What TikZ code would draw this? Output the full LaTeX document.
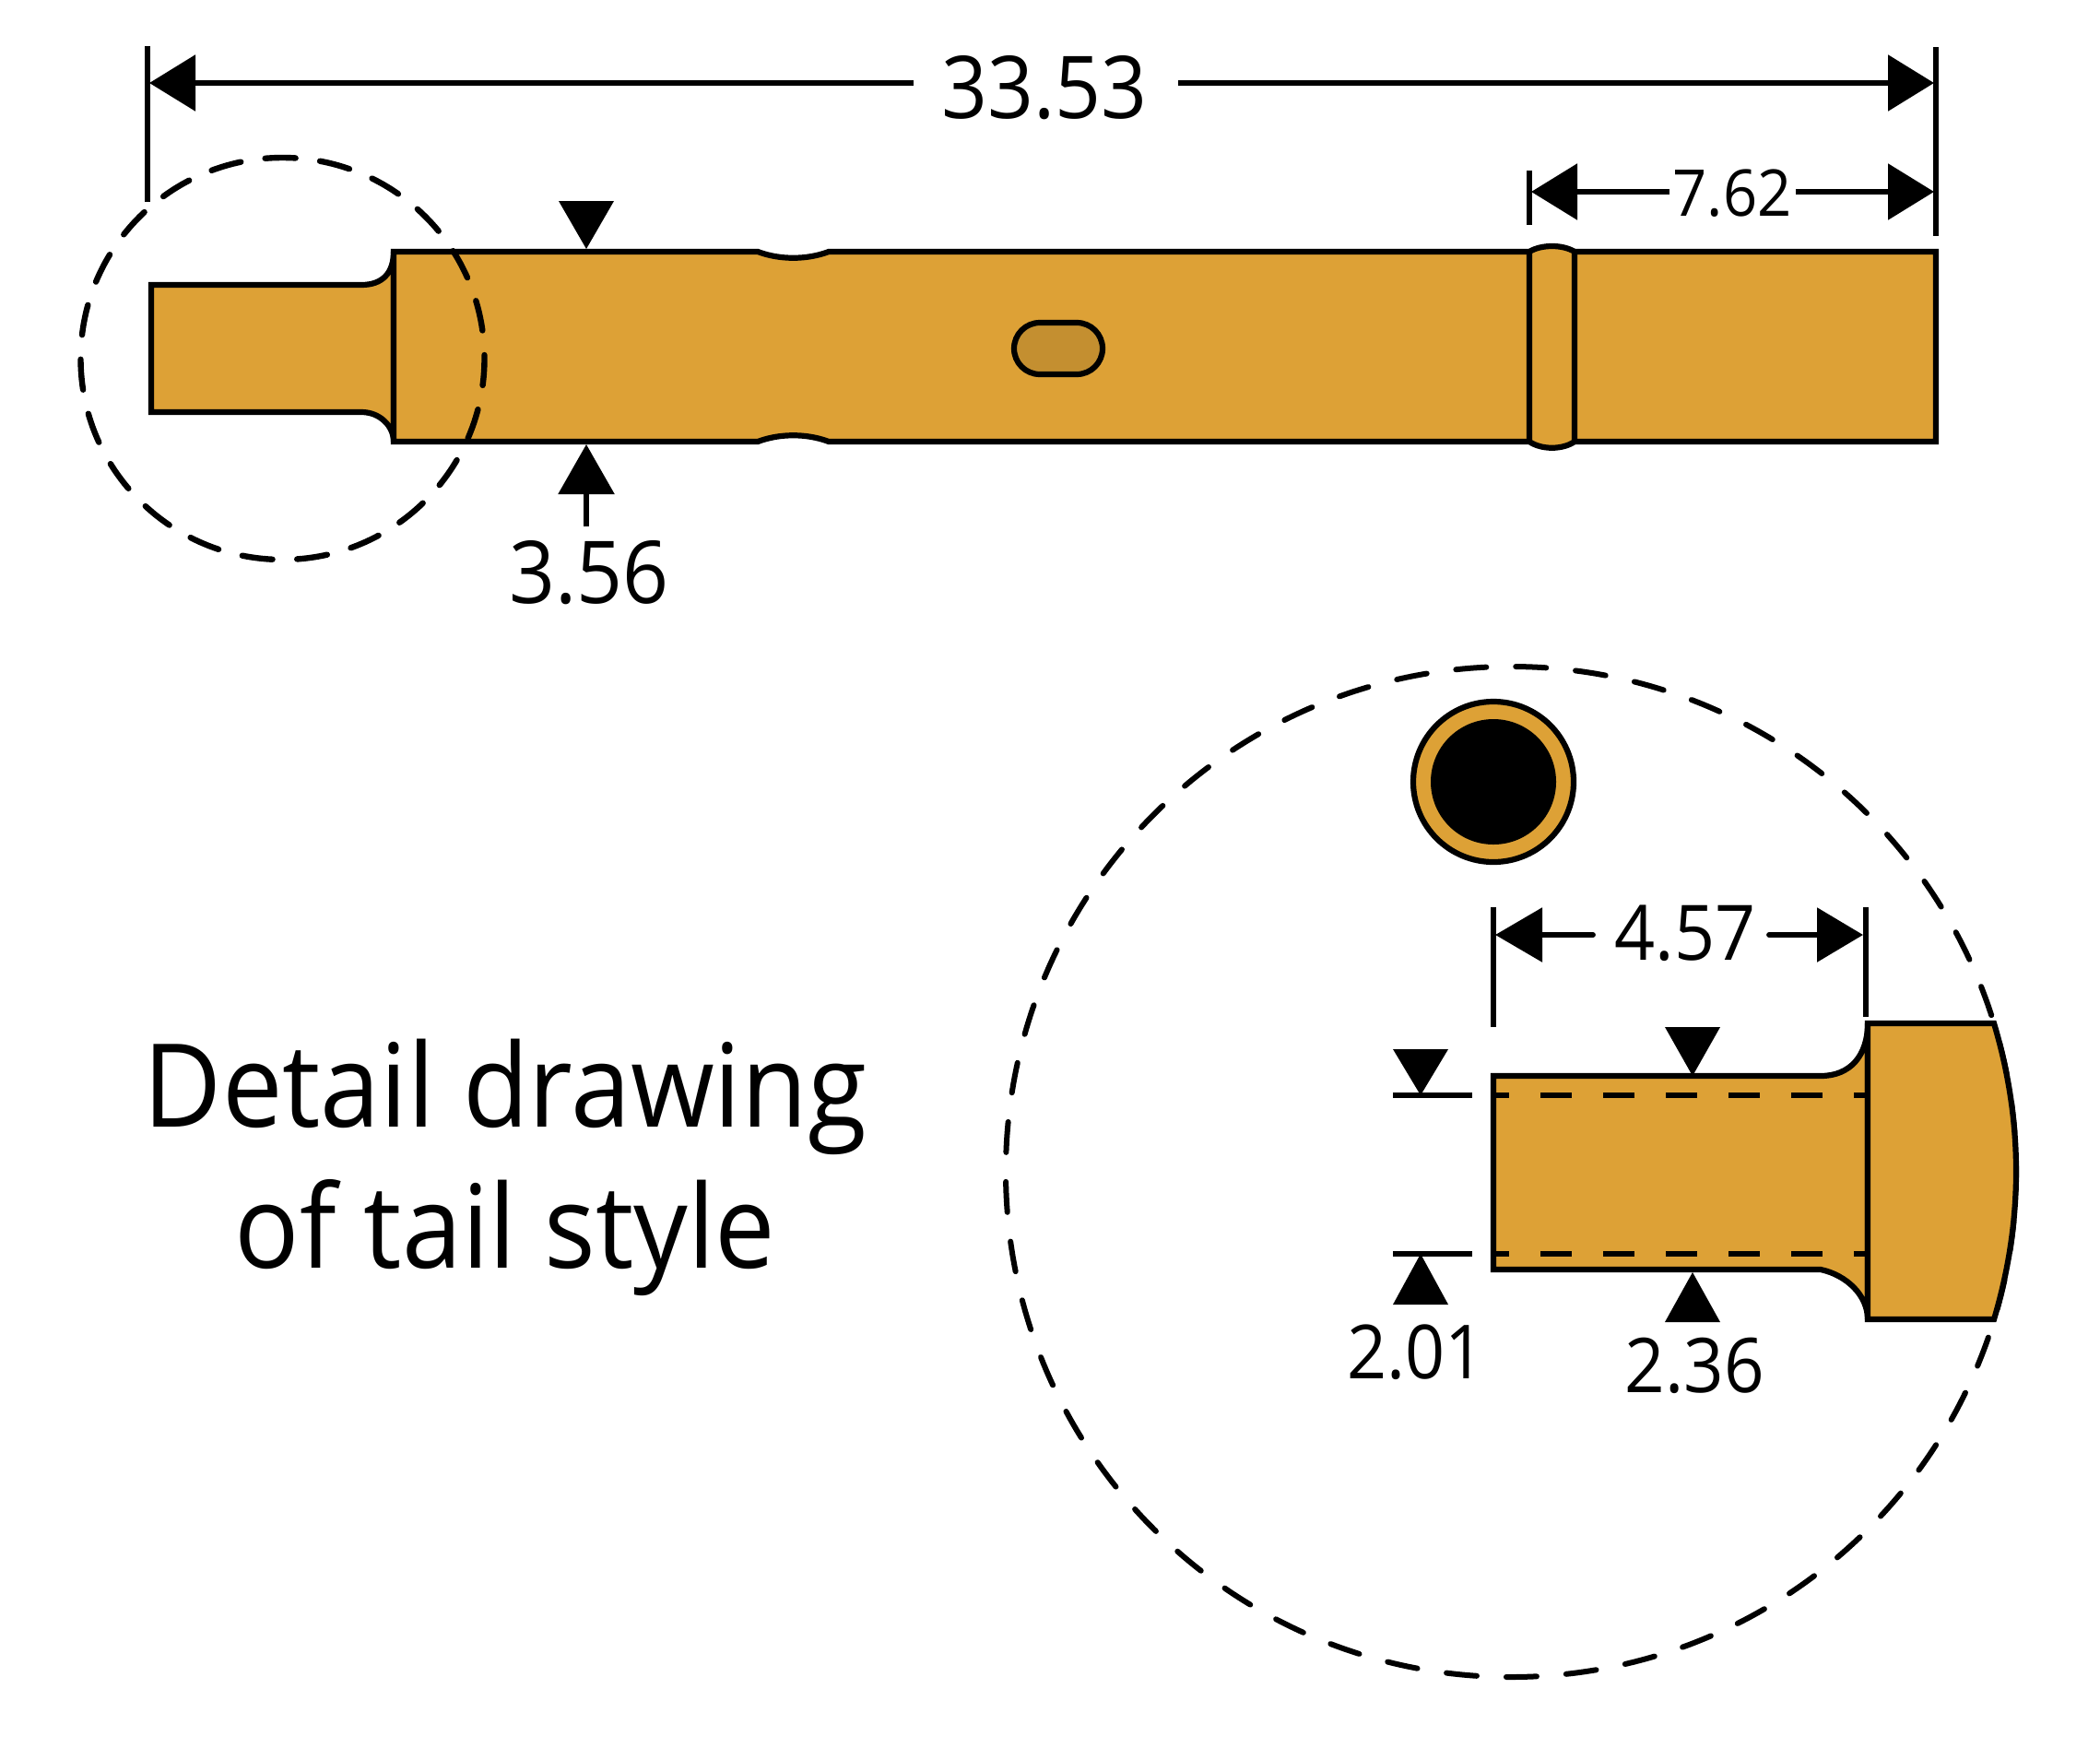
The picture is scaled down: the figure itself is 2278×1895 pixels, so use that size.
\documentclass[tikz,border=0pt]{standalone}
\usepackage{fontspec}
\setmainfont[FakeStretch=0.93]{Open Sans}
\usetikzlibrary{arrows.meta}
\definecolor{brass}{HTML}{DDA136}
\definecolor{brassdark}{HTML}{C48F30}
\tikzset{
  x=0.5pt,y=-0.5pt,
  partline/.style={draw=black,line width=3.1pt,fill=brass,line join=miter},
  extline/.style={draw=black,line width=2.9pt},
  dimline/.style={draw=black,line width=2.9pt,-{Triangle[length=25pt,width=30pt]}},
  marker/.style={fill=black},
  circlesmall/.style={draw=black,line width=3.2pt,line cap=round,dash pattern=on 16.5pt off 13.35pt,dash phase=2pt},
  circlebig/.style={draw=black,line width=3pt,line cap=round,dash pattern=on 16.5pt off 16pt,dash phase=6pt},
  hiddenline/.style={draw=black,line width=3pt,dash pattern=on 17pt off 17pt,dash phase=8.5pt},
  lab/.style={inner sep=0pt,anchor=base,font=\fontsize{#1}{#1}\selectfont},
}
\newcommand{\mrk}[3]{\fill[marker] (#1,#2) -- (#1-30,#3) -- (#1+30,#3) -- cycle;}
\begin{document}
\begin{tikzpicture}
\useasboundingbox (0,0) rectangle (2278,1895);

% ---- detail circle (beneath the head)
\draw[circlebig] (1639,1271) circle[x radius=548,y radius=548];

% ---- main pin
\path[partline] (164,309) -- (392,309) .. controls (415,309) and (427,296) .. (427,273)
  -- (427,479) .. controls (427,462) and (412,447) .. (392,447) -- (164,447) -- cycle;
\path[partline] (427,273) -- (822,273) .. controls (846,282) and (875,282) .. (899,273)
  -- (2100,273) -- (2100,479) -- (899,479) .. controls (875,470) and (846,470) .. (822,479)
  -- (427,479) -- cycle;
\path[partline] (1659,273) .. controls (1672,265) and (1695,265) .. (1708,273) -- (1708,479)
  .. controls (1695,488) and (1672,488) .. (1659,479) -- cycle;
\draw[partline,fill=brassdark,rounded corners=14pt] (1100,350) rectangle (1196,406);
\draw[circlesmall] (306.5,389) circle[x radius=219,y radius=218];

% ---- dimension 33.53
\coordinate (extL) at (160,50);
\coordinate (extLb) at (160,219);
\coordinate (extR) at (2100,51);
\coordinate (extRb) at (2100,256);
\coordinate (tipL) at (162,90);
\coordinate (tipR) at (2098,90);
\draw[extline] (extL) -- (extLb);
\draw[extline] (extR) -- (extRb);
\node[lab=47pt] (d3353) at (1133,128) {33.53};
\coordinate (d3353l) at (991,90);
\coordinate (d3353r) at (1278,90);
\draw[dimline] (d3353l) -- (tipL);
\draw[dimline] (d3353r) -- (tipR);

% ---- dimension 7.62
\coordinate (e2t) at (1659,185);
\coordinate (e2b) at (1659,244);
\draw[extline] (e2t) -- (e2b);
\node[lab=35pt] (d762) at (1879,234) {7.62};
\coordinate (d762l) at (1811,208);
\coordinate (d762r) at (1948,208);
\coordinate (t762l) at (1661,208);
\coordinate (t762r) at (2098,208);
\draw[dimline] (d762l) -- (t762l);
\draw[dimline] (d762r) -- (t762r);

% ---- dimension 3.56
\mrk{636}{270}{218}
\node[lab=47pt] (d356) at (639,654) {3.56};
\coordinate (d356a) at (636,571);
\coordinate (d356b) at (636,482);
\draw[dimline,-{Triangle[length=27pt,width=30pt]}] (d356a) -- (d356b);

% ---- end view
\node[circle,draw=black,line width=3.1pt,fill=brass,minimum size=87pt,inner sep=0pt] (endo) at (1620,848) {};
\node[circle,fill=black,minimum size=68pt,inner sep=0pt] (endi) at (1620,848) {};

% ---- detail tail
\path[partline] (1620,1167) -- (1975,1167) .. controls (2007,1167) and (2026,1145) .. (2026,1110)
  -- (2026,1431) .. controls (2026,1405) and (2003,1383) .. (1975,1377) -- (1620,1377) -- cycle;
\coordinate (hl) at (1620,1188); \coordinate (hr) at (2026,1188);
\coordinate (hl2) at (1620,1360); \coordinate (hr2) at (2026,1360);
\draw[hiddenline] (hl) -- (hr);
\draw[hiddenline] (hl2) -- (hr2);
\path[partline] (2026,1110) -- (2163,1110) .. controls (2195,1217) and (2195,1324) .. (2163,1431) -- (2026,1431) -- cycle;

% ---- dimension 4.57
\coordinate (e3t) at (1620,984); \coordinate (e3b) at (1620,1114);
\coordinate (e4t) at (2024,984); \coordinate (e4b) at (2024,1103);
\draw[extline] (e3t) -- (e3b);
\draw[extline] (e4t) -- (e4b);
\node[lab=41.5pt] (d457) at (1828,1041) {4.57};
\coordinate (d457l) at (1728,1014); \coordinate (d457r) at (1919,1014);
\coordinate (t457l) at (1622,1014); \coordinate (t457r) at (2021,1014);
\draw[dimline,line cap=round,-{Triangle[length=25.5pt,width=29pt]}] (d457l) -- (t457l);
\draw[dimline,line cap=round,-{Triangle[length=25pt,width=29pt]}] (d457r) -- (t457r);

% ---- dimensions 2.01, 2.36
\coordinate (w1) at (1511,1188); \coordinate (w2) at (1597,1188);
\coordinate (w3) at (1511,1360); \coordinate (w4) at (1597,1360);
\draw[extline] (w1) -- (w2);
\draw[extline] (w3) -- (w4);
\mrk{1541}{1188}{1138}
\mrk{1541}{1360}{1415}
\node[lab=40.5pt] (d201) at (1536,1495) {2.01};
\mrk{1836}{1167}{1114}
\mrk{1836}{1380}{1434}
\node[lab=41pt] (d236) at (1838,1510) {2.36};

% ---- title
\node[lab=62.8pt] (t1) at (548,1222) {Detail drawing};
\node[lab=62.8pt] (t2) at (548,1375) {of tail style};
\end{tikzpicture}
\end{document}
